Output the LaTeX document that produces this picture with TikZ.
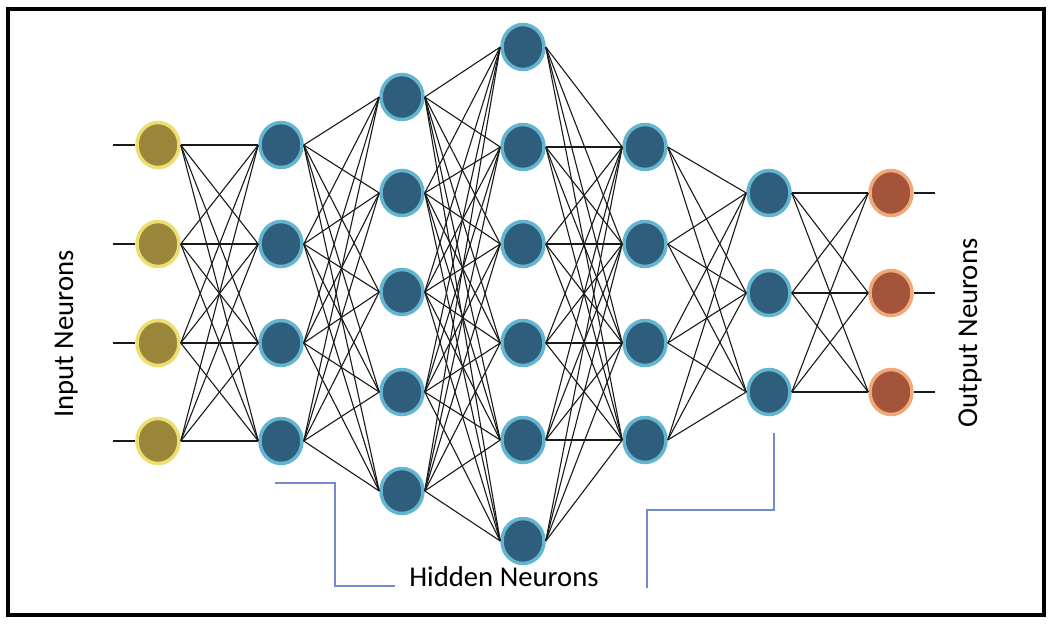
\documentclass[tikz,border=0pt]{standalone}
\usepackage{fontspec}
\setmainfont{Carlito}
\usetikzlibrary{shapes.geometric}
\definecolor{hidfill}{RGB}{47,93,124}
\definecolor{hidring}{RGB}{100,182,208}
\definecolor{infill}{RGB}{154,134,58}
\definecolor{inring}{RGB}{236,222,112}
\definecolor{outfill}{RGB}{163,84,58}
\definecolor{outring}{RGB}{238,170,120}
\definecolor{brk}{RGB}{112,140,204}
\begin{document}
\begin{tikzpicture}[x=1pt,y=-1pt,
  neuron/.style={ellipse, minimum width=42pt, minimum height=45pt, line width=3.5pt, inner sep=0pt},
  hid/.style={neuron, draw=hidring, fill=hidfill},
  inp/.style={neuron, draw=inring, fill=infill},
  outp/.style={neuron, draw=outring, fill=outfill},
  conn/.style={draw=black!90, line width=1.1pt},
  bracket/.style={draw=brk, line width=1.2pt},
  lbl/.style={font=\fontsize{28.7}{30}\selectfont, inner sep=0pt}]
\useasboundingbox (0,0) rectangle (1054,625);
\draw[line width=4pt] (8,9) rectangle (1044,615);
% nodes
\foreach \y [count=\i] in {145,244,343,441} \node[inp] (I\i) at (158,\y) {};
\foreach \y [count=\i] in {145,244,343,441} \node[hid] (A\i) at (281,\y) {};
\foreach \y [count=\i] in {97,193,292,392,491} \node[hid] (B\i) at (402,\y) {};
\foreach \y [count=\i] in {47,147,244,343,440,541} \node[hid] (C\i) at (523,\y) {};
\foreach \y [count=\i] in {147,244,343,440} \node[hid] (D\i) at (645,\y) {};
\foreach \y [count=\i] in {193,293,392} \node[hid] (E\i) at (769,\y) {};
\foreach \y [count=\i] in {193,293,392} \node[outp] (O\i) at (891,\y) {};
% stubs
\foreach \y [count=\i] in {145,244,343,441} {
  \coordinate (is\i) at (113,\y);
  \draw[conn] (is\i) -- (I\i.west);
}
\foreach \y [count=\i] in {193,293,392} {
  \coordinate (os\i) at (935,\y);
  \draw[conn] (O\i.east) -- (os\i);
}
% connections
\foreach \a in {1,...,4} \foreach \b in {1,...,4} \draw[conn] (I\a.east) -- (A\b.west);
\foreach \a in {1,...,4} \foreach \b in {1,...,5} \draw[conn] (A\a.east) -- (B\b.west);
\foreach \a in {1,...,5} \foreach \b in {1,...,6} \draw[conn] (B\a.east) -- (C\b.west);
\foreach \a in {1,...,6} \foreach \b in {1,...,4} \draw[conn] (C\a.east) -- (D\b.west);
\foreach \a in {1,...,4} \foreach \b in {1,...,3} \draw[conn] (D\a.east) -- (E\b.west);
\foreach \a in {1,...,3} \foreach \b in {1,...,3} \draw[conn] (E\a.east) -- (O\b.west);
% brackets
\coordinate (bl1) at (275,483);
\coordinate (bl2) at (335,483);
\coordinate (bl3) at (335,586);
\coordinate (bl4) at (395,586);
\draw[bracket] (bl1) -- (bl2) -- (bl3) -- (bl4);
\coordinate (br1) at (774,433);
\coordinate (br2) at (774,510);
\coordinate (br3) at (647,510);
\coordinate (br4) at (647,588);
\draw[bracket] (br1) -- (br2) -- (br3) -- (br4);
% labels
\node[lbl, rotate=90, anchor=base] (inlbl) at (73,334) {Input Neurons};
\node[lbl, rotate=90, anchor=base] (outlbl) at (977,333) {Output Neurons};
\node[lbl, anchor=base] (hidlbl) at (504,586) {Hidden Neurons};
\end{tikzpicture}
\end{document}
